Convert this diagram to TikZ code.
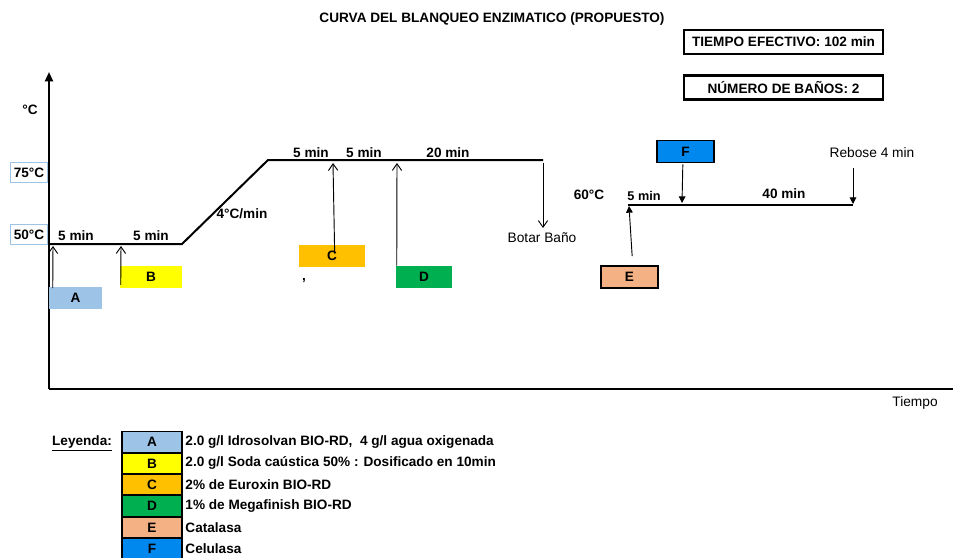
\documentclass[tikz,border=0pt]{standalone}
\usepackage{fontspec}
\setmainfont{Liberation Sans}
\usetikzlibrary{arrows.meta,positioning}
\definecolor{colA}{HTML}{9DC3E6}
\definecolor{colB}{HTML}{FFFF00}
\definecolor{colC}{HTML}{FFC000}
\definecolor{colD}{HTML}{00B050}
\definecolor{colE}{HTML}{F4B183}
\definecolor{colF}{HTML}{0088EE}
\definecolor{tempblue}{HTML}{9DC3E6}
\begin{document}
\begin{tikzpicture}[x=0.75pt, y=-0.75pt,
    lbl/.style={font=\bfseries\fontsize{10.2}{11}\selectfont, inner sep=0},
    plain/.style={font=\fontsize{10.3}{11}\selectfont, inner sep=0},
    tagbox/.style={lbl, minimum height=16.5pt, inner sep=0},
    infobox/.style={lbl, draw, line width=1.6pt, minimum width=149pt, minimum height=18pt},
    tempbox/.style={lbl, draw=tempblue, line width=0.8pt, minimum width=28pt, minimum height=15.5pt},
    curve/.style={line width=1.5pt},
    openarr/.style={-{Straight Barb[length=5pt,width=7pt]}, line width=0.7pt},
    fullarr/.style={-{Triangle[length=5pt,width=5pt]}, line width=0.7pt},
    legbox/.style={lbl, draw, line width=0.8pt, minimum width=45pt, minimum height=15.2pt}]
    \useasboundingbox (0,0) rectangle (953,557);
    % titulo y cuadros
    \node[lbl] (titulo) at (492,19) {CURVA DEL BLANQUEO ENZIMATICO (PROPUESTO)};
    \node[infobox] (tiempo) at (783.5,42) {TIEMPO EFECTIVO: 102 min};
    \node[infobox] (banos) at (783.5,87.5) {NÚMERO DE BAÑOS: 2};
    % ejes
    \coordinate (origen) at (49,389);
    \coordinate (y-top) at (49,72);
    \coordinate (x-end) at (953,389);
    \draw[line width=1.5pt, -{Triangle[length=7pt,width=6pt]}] (origen) -- (y-top);
    \draw[line width=1.5pt] (origen) -- (x-end);
    \node[lbl] (grados) at (30,110) {°C};
    \node[plain] (tiempo-lbl) at (915,403) {Tiempo};
    \node[tempbox] (t-75) at (29,172.5) {75°C};
    \node[tempbox] (t-50) at (29,234.5) {50°C};
    % primer baño
    \coordinate (p-0) at (50,244);
    \coordinate (p-1) at (182,244);
    \coordinate (p-2) at (268,160);
    \coordinate (p-3) at (543,160);
    \draw[curve] (p-0) -- (p-1) -- (p-2) -- (p-3);
    \node[lbl] (m-1) at (76,236) {5 min};
    \node[lbl] (m-2) at (151,236) {5 min};
    \node[lbl] (rampa) at (242,214) {4°C/min};
    \node[lbl] (m-3) at (311,153) {5 min};
    \node[lbl] (m-4) at (364,153) {5 min};
    \node[lbl] (m-5) at (448,153) {20 min};
    \node[lbl] (coma) at (304,281) {,};
    % productos
    \node[tagbox, fill=colA, minimum width=39.75pt] (A) at (75.5,298) {A};
    \node[tagbox, fill=colB, minimum width=46.5pt] (B) at (151,277) {B};
    \node[tagbox, fill=colC, minimum width=49.5pt] (C) at (332,256) {C};
    \node[tagbox, fill=colD, minimum width=42pt] (D) at (424,277) {D};
    \node[tagbox, fill=colE, draw, line width=0.8pt, minimum width=42.75pt] (E) at (629.5,277) {E};
    \node[tagbox, fill=colF, draw, line width=0.8pt, minimum width=42.75pt] (F) at (685.5,151.5) {F};
    \coordinate (A-in) at (53,246);
    \coordinate (B-in) at (121,246);
    \coordinate (C-in) at (333,163);
    \coordinate (D-in) at (397,163);
    \draw[openarr] ([xshift=3pt, yshift=-1pt]A.north west) -- (A-in);
    \draw[openarr] ([xshift=0.75pt, yshift=2.5pt]B.south west) -- (B-in);
    \draw[openarr] ([xshift=2pt, yshift=2pt]C.center) -- (C-in);
    \draw[openarr] ([xshift=0.75pt]D.north west) -- (D-in);
    \coordinate (botar) at (543,228);
    \draw[openarr] ([yshift=-2pt]p-3) -- (botar);
    \node[plain] (botar-lbl) at (542,238) {Botar Baño};
    % segundo baño
    \node[lbl] (t-60) at (589,195) {60°C};
    \coordinate (q-0) at (628,205);
    \coordinate (q-1) at (853,205);
    \draw[curve] (q-0) -- (q-1);
    \node[lbl, font=\bfseries\fontsize{9.5}{10}\selectfont] (m-6) at (644,196) {5 min};
    \node[lbl] (m-7) at (784,194) {40 min};
    \node[plain] (rebose) at (872,153) {Rebose 4 min};
    \coordinate (E-in) at (629,206);
    \coordinate (F-in) at (682,203);
    \coordinate (R-top) at (853,168);
    \coordinate (R-in) at (853,204);
    \draw[fullarr] ([shift={(2pt,7pt)}]E.north) -- (E-in);
    \draw[fullarr] ([xshift=-2pt, yshift=-1pt]F.south) -- (F-in);
    \draw[fullarr] (R-top) -- (R-in);
    % leyenda
    \node[lbl] (leyenda) at (82,443) {\underline{Leyenda:}};
    \node[legbox, fill=colA] (L-A) at (152,442) {A};
    \node[legbox, fill=colB, below=0pt of L-A] (L-B) {B};
    \node[legbox, fill=colC, below=0pt of L-B] (L-C) {C};
    \node[legbox, fill=colD, below=0pt of L-C] (L-D) {D};
    \node[legbox, fill=colE, below=0pt of L-D] (L-E) {E};
    \node[legbox, fill=colF, below=0pt of L-E] (L-F) {F};
    \node[lbl, anchor=west] (txt-A) at ([xshift=2pt]L-A.east) {2.0 g/l Idrosolvan BIO-RD,\ \ 4 g/l agua oxigenada};
    \node[lbl, anchor=west] (txt-B) at ([xshift=2pt]L-B.east) {2.0 g/l Soda caústica 50\% : Dosificado en 10min};
    \node[lbl, anchor=west] (txt-C) at ([xshift=2pt]L-C.east) {2\% de Euroxin BIO-RD};
    \node[lbl, anchor=west] (txt-D) at ([xshift=2pt]L-D.east) {1\% de Megafinish BIO-RD};
    \node[lbl, anchor=west] (txt-E) at ([xshift=2pt]L-E.east) {Catalasa};
    \node[lbl, anchor=west] (txt-F) at ([xshift=2pt]L-F.east) {Celulasa};
\end{tikzpicture}
\end{document}
